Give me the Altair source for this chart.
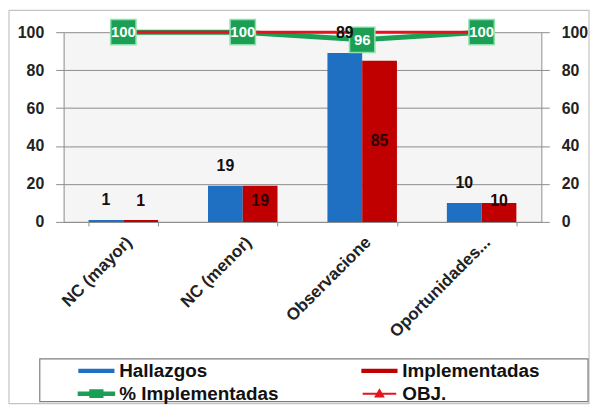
import altair as alt
import pandas as pd

categories = ["NC (mayor)", "NC (menor)", "Observacione", "Oportunidades..."]
hallazgos = [1, 19, 89, 10]
implementadas = [1, 19, 85, 10]
pct_implementadas = [100, 100, 96, 100]
obj = [100, 100, 100, 100]

bar_series = ["Hallazgos", "Implementadas"]
line_series = ["% Implementadas", "OBJ."]
# legend lays entries out column by column: col 1 = Hallazgos, % Implementadas
legend_order = ["Hallazgos", "% Implementadas", "Implementadas", "OBJ."]
BLUE, GREEN, DARKRED, RED = "#1f6fc2", "#1a9f55", "#c00000", "#e3141c"
colors = [BLUE, GREEN, DARKRED, RED]
shapes = [
    "M-1.4,-0.17H1.4V0.17H-1.4Z",
    "M-1.45,-0.18H1.45V0.18H-1.45Z M-0.55,-0.34H0.55V0.34H-0.55Z",
    "M-1.4,-0.17H1.4V0.17H-1.4Z",
    "M-1.3,-0.08H1.3V0.08H-1.3Z M0,-0.42L0.42,0.3H-0.42Z",
]

bars_df = pd.DataFrame({
    "cat": categories * 2,
    "series": ["Hallazgos"] * 4 + ["Implementadas"] * 4,
    "value": hallazgos + implementadas,
})
lines_df = pd.DataFrame({
    "cat": categories * 2,
    "series": ["% Implementadas"] * 4 + ["OBJ."] * 4,
    "value": pct_implementadas + obj,
})
legend_df = pd.concat([bars_df, lines_df], ignore_index=True)

FONT = "Liberation Sans"
W, H = 481, 191

xscale = alt.Scale(paddingInner=0.418, paddingOuter=0.209)
x_axis = alt.X("cat:N", sort=categories, scale=xscale, title=None,
               axis=alt.Axis(labelAngle=-45, labelAlign="right",
                             labelFont=FONT, labelFontSize=17, labelFontWeight="bold",
                             labelColor="#222222", labelPadding=8, tickBand="extent",
                             tickSize=4, tickColor="#8c8c8c", domainColor="#8c8c8c",
                             labelLimit=220))
xp = alt.X("cat:N", sort=categories, scale=xscale, title=None)
yscale = alt.Scale(domain=[0, 100], nice=False)
xoff = alt.XOffset("series:N", scale=alt.Scale(domain=bar_series))

axis_common = dict(values=[0, 20, 40, 60, 80, 100], labelFont=FONT, labelFontSize=16,
                   labelFontWeight="bold", labelColor="#222222", tickSize=8,
                   tickColor="#8c8c8c", domainColor="#8c8c8c", title=None)

frame = alt.Chart(pd.DataFrame({"a": [0]})).mark_rect(
    fill="transparent", stroke="#c4c4c4", strokeWidth=1.2
).encode(x=alt.value(-55), x2=alt.value(529), y=alt.value(-22), y2=alt.value(374))

legend_box = alt.Chart(pd.DataFrame({"a": [0]})).mark_rect(
    fill="transparent", stroke="#7f7f7f", strokeWidth=1.2
).encode(x=alt.value(-24), x2=alt.value(528), y=alt.value(329), y2=alt.value(372))

bars = alt.Chart(bars_df).mark_bar().encode(
    x=x_axis,
    xOffset=xoff,
    y=alt.Y("value:Q", scale=yscale,
            axis=alt.Axis(orient="left", grid=True, gridColor="#8c8c8c", labelPadding=12,
                          **axis_common)),
    color=alt.when(alt.datum.series == "Hallazgos").then(alt.value(BLUE)).otherwise(alt.value(DARKRED)),
)

green_line = alt.Chart(lines_df).transform_filter(
    alt.datum.series == "% Implementadas"
).mark_line(strokeWidth=5, color=GREEN).encode(
    x=xp,
    y=alt.Y("value:Q", scale=yscale,
            axis=alt.Axis(orient="right", grid=False, labelPadding=12, **axis_common)),
)

red_line = alt.Chart(lines_df).transform_filter(
    alt.datum.series == "OBJ."
).mark_line(strokeWidth=3, color=RED).encode(
    x=xp,
    y=alt.Y("value:Q", scale=yscale, axis=None),
)

red_tri = alt.Chart(lines_df).transform_filter(
    alt.datum.series == "OBJ."
).mark_point(shape="triangle-up", filled=True, size=70, opacity=1, color=RED).encode(
    x=xp,
    y=alt.Y("value:Q", scale=yscale, axis=None),
)

green_box = alt.Chart(lines_df).transform_filter(
    alt.datum.series == "% Implementadas"
).mark_square(size=650, opacity=1, stroke="#8fe0ad", strokeWidth=1.5, fill=GREEN).encode(
    x=xp,
    y=alt.Y("value:Q", scale=yscale, axis=None),
)

green_text = alt.Chart(lines_df).transform_filter(
    alt.datum.series == "% Implementadas"
).mark_text(font=FONT, fontSize=15, fontWeight="bold", color="#ffffff", baseline="middle").encode(
    x=xp,
    y=alt.Y("value:Q", scale=yscale, axis=None),
    text=alt.Text("value:Q", format="d"),
)

hal_text = alt.Chart(bars_df).transform_filter(
    alt.datum.series == "Hallazgos"
).mark_text(font=FONT, fontSize=16, fontWeight="bold", color="#111111", baseline="middle", dy=-20).encode(
    x=xp,
    xOffset=xoff,
    y=alt.Y("value:Q", scale=yscale, axis=None),
    text=alt.Text("value:Q", format="d"),
)

imp_text = alt.Chart(bars_df).transform_filter(
    alt.datum.series == "Implementadas"
).transform_calculate(
    ly="max(datum.value / 2, 11)"
).mark_text(font=FONT, fontSize=16, fontWeight="bold", color="#2a0000", baseline="middle").encode(
    x=xp,
    xOffset=xoff,
    y=alt.Y("ly:Q", scale=yscale, axis=None),
    text=alt.Text("value:Q", format="d"),
)

leg = alt.Legend(title=None, orient="none", legendX=20, legendY=328,
                 columns=2, columnPadding=82, rowPadding=0,
                 labelFont=FONT, labelFontSize=19, labelFontWeight="bold",
                 labelColor="#111111", symbolOpacity=1, symbolSize=676,
                 symbolStrokeWidth=0, labelOffset=10, padding=0, labelLimit=300)

legend_layer = alt.Chart(legend_df).mark_point(filled=True, size=0).encode(
    x=xp,
    y=alt.Y("value:Q", scale=yscale, axis=None),
    color=alt.Color("series:N", scale=alt.Scale(domain=legend_order, range=colors), legend=leg),
    shape=alt.Shape("series:N", scale=alt.Scale(domain=legend_order, range=shapes), legend=leg),
)

chart = alt.layer(
    frame, legend_box, bars, green_line, red_line, red_tri, green_box, green_text,
    hal_text, imp_text, legend_layer
).resolve_scale(y="independent").properties(
    width=W, height=H, padding=0,
).configure(background="#ffffff").configure_view(stroke=None, fill="#f5f5f5")

chart.save("out.html", embed_options={"renderer": "svg", "actions": False})
